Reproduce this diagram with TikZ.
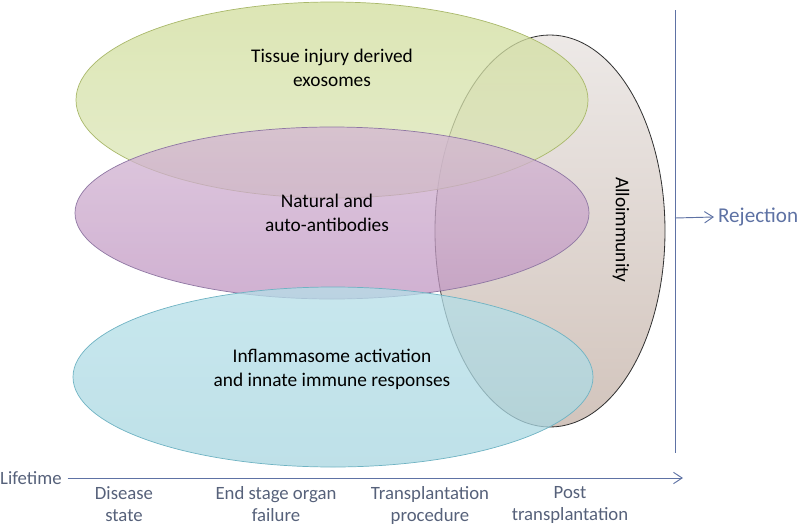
\documentclass[tikz,border=0pt]{standalone}
\usepackage{fontspec}
\setmainfont{Carlito}
\usetikzlibrary{arrows.meta}

\definecolor{axisblue}{HTML}{5E72A4}
\definecolor{labelgrey}{HTML}{56617A}
\definecolor{greenedge}{HTML}{A9B86A}
\definecolor{greentop}{HTML}{D0DD9B}
\definecolor{greenbot}{HTML}{DDE7BB}
\definecolor{purpleedge}{HTML}{8F77A3}
\definecolor{purpletop}{HTML}{D3B6D3}
\definecolor{purplebot}{HTML}{C096C2}
\definecolor{blueedge}{HTML}{6FB3C3}
\definecolor{bluetop}{HTML}{B5DFE8}
\definecolor{bluebot}{HTML}{A8D6E0}
\definecolor{allotop}{HTML}{EDE9E7}
\definecolor{allobot}{HTML}{D2C4BC}

\begin{document}
\begin{tikzpicture}[x=0.03cm,y=-0.03cm,
  every node/.style={font=\fontsize{16.5pt}{20.5pt}\selectfont, align=center},
  blob/.style={fill opacity=0.75, line width=0.6pt},
  axis/.style={axisblue, line width=0.8pt},
  stage/.style={labelgrey, anchor=north, font=\fontsize{16pt}{19pt}\selectfont}]

  \useasboundingbox (0,0) rectangle (800,527);

  % alloimmunity behind the others
  \draw [line width=0.7pt, draw=black!80, top color=allotop, bottom color=allobot]
    (550,231) ellipse (115 and 196);

  \draw [blob, draw=greenedge, top color=greentop, bottom color=greenbot]
    (332,100) ellipse (256 and 98);
  \draw [blob, draw=purpleedge, top color=purpletop, bottom color=purplebot]
    (332,213) ellipse (257 and 86);
  \draw [blob, draw=blueedge, top color=bluetop, bottom color=bluebot]
    (333,377) ellipse (260 and 90);

  \node (exo) at (332,68) {Tissue injury derived\\exosomes};
  \node (abs) at (327,213) {Natural and\\auto-antibodies};
  \node (infl) at (332,369) {Inflammasome activation\\and innate immune responses};
  \node (allo) at (621,230) [rotate=-90] {Alloimmunity};

  % time axis
  \node (life) at (0,478) [labelgrey, anchor=west, inner sep=0pt, font=\fontsize{16pt}{19pt}\selectfont] {Lifetime};
  \coordinate (tend) at (683,478);
  \draw [axis, shorten <=0.17cm, -{Straight Barb[length=2.6mm,width=3.4mm]}] (life.east) -- (tend);

  \node (s1) at (124,482) [stage] {Disease\\state};
  \node (s2) at (276,482) [stage] {End stage organ\\failure};
  \node (s3) at (430,482) [stage] {Transplantation\\procedure};
  \node (s4) at (570,482) [stage] {Post\\transplantation};

  % outcome
  \coordinate (vtop) at (675,10);
  \coordinate (vbot) at (675,453);
  \coordinate (vmid) at (675,218);
  \draw [axis] (vtop) -- (vbot);
  \node (rej) at (714,217) [anchor=west, axisblue, font=\fontsize{18pt}{21pt}\selectfont] {Rejection};
  \draw [axis, -{Straight Barb[length=2.6mm,width=3.4mm]}] (vmid) -- (rej.west);
\end{tikzpicture}
\end{document}
